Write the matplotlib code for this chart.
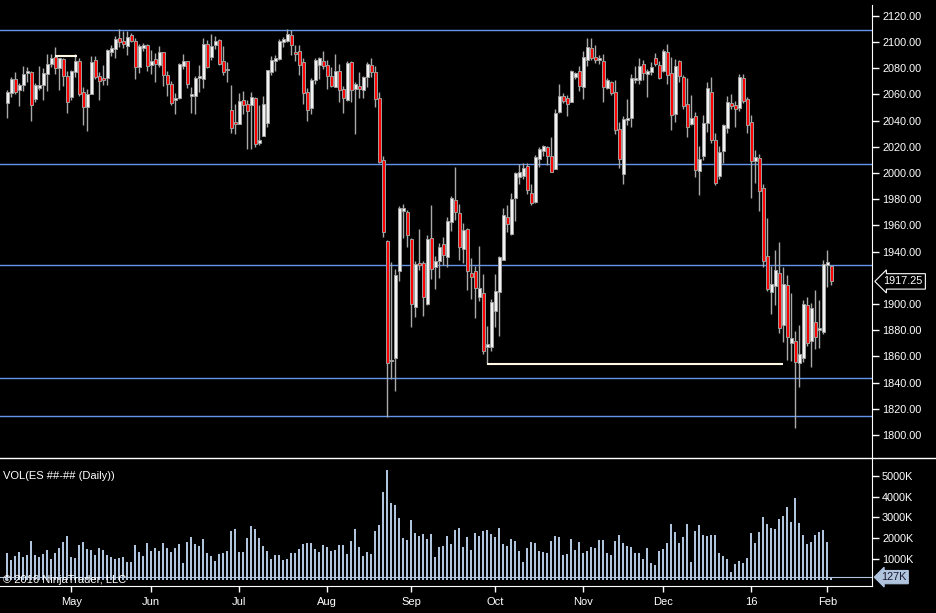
import matplotlib.pyplot as plt
import matplotlib.transforms as mtransforms
from matplotlib.lines import Line2D
import numpy as np

# ES daily bars, Apr 2015 - Feb 2016
opens = [2053.7, 2061.3, 2071.5, 2063.1, 2067.2, 2076.6, 2076.9, 2056.8, 2065.2, 2067.2,
         2075.3, 2083.2, 2088.8, 2079.9, 2086.8, 2073.8, 2058.3, 2077.4, 2085.5, 2061.6,
         2050.6, 2060.6, 2086.3, 2074.1, 2072.5, 2072.3, 2092.6, 2094.9, 2102.8, 2100.8,
         2096.7, 2105.4, 2100.8, 2081.2, 2095.7, 2097.7, 2082.7, 2087.0, 2082.7, 2092.4,
         2074.8, 2067.7, 2056.0, 2057.0, 2082.0, 2085.3, 2059.0, 2058.5, 2072.5, 2072.0,
         2098.5, 2088.8, 2097.7, 2101.5, 2085.5, 2078.4, 2048.1, 2038.4, 2037.7, 2055.7,
         2052.7, 2051.7, 2057.3, 2022.9, 2028.5, 2038.4, 2077.4, 2085.5, 2087.3, 2100.3,
         2101.0, 2105.4, 2091.9, 2092.9, 2084.5, 2062.1, 2049.4, 2071.3, 2082.7, 2085.3,
         2082.2, 2074.1, 2065.9, 2077.6, 2063.9, 2055.5, 2084.8, 2064.4, 2066.4, 2063.1,
         2073.0, 2082.5, 2077.1, 2057.3, 2009.9, 1948.1, 1856.2, 1859.0, 1924.9, 1971.2,
         1970.2, 1949.6, 1897.4, 1931.3, 1931.3, 1900.2, 1950.4, 1928.0, 1932.5, 1945.8,
         1936.1, 1962.8, 1979.4, 1969.5, 1942.2, 1957.2, 1923.9, 1925.2, 1905.6, 1908.4,
         1867.4, 1867.4, 1894.9, 1909.4, 1933.8, 1966.4, 1953.7, 1980.7, 1996.7, 1998.0,
         2005.6, 1984.7, 1978.1, 2010.7, 2017.1, 2019.6, 2013.0, 2003.1, 2046.6, 2058.8,
         2057.3, 2054.5, 2073.3, 2077.6, 2065.7, 2086.0, 2095.2, 2088.6, 2086.5, 2085.5,
         2065.2, 2069.2, 2061.8, 2033.3, 1999.5, 2040.7, 2042.2, 2071.3, 2071.0, 2083.0,
         2075.8, 2076.9, 2087.8, 2082.2, 2078.1, 2092.4, 2076.1, 2044.8, 2085.5, 2073.0,
         2052.7, 2037.7, 2043.5, 2001.8, 2013.0, 2037.9, 2061.6, 2025.2, 1998.0, 2017.0,
         2034.6, 2053.4, 2051.6, 2049.9, 2072.3, 2056.2, 2038.7, 2009.4, 2011.2, 1988.3,
         1936.9, 1909.4, 1914.0, 1923.4, 1883.9, 1914.2, 1870.4, 1872.0, 1855.2, 1859.0,
         1899.4, 1872.0, 1886.0, 1880.1, 1878.8, 1930.0, 1929.0]
highs = [2063.1, 2073.0, 2077.1, 2068.7, 2081.4, 2080.7, 2077.9, 2069.0, 2081.4, 2079.9,
         2090.6, 2090.6, 2095.9, 2088.1, 2087.6, 2078.1, 2078.9, 2090.9, 2087.6, 2065.4,
         2063.9, 2089.1, 2089.6, 2077.4, 2082.2, 2094.7, 2097.7, 2104.3, 2109.9, 2108.4,
         2108.4, 2106.6, 2102.8, 2098.2, 2099.3, 2098.2, 2093.9, 2091.6, 2097.0, 2092.4,
         2078.1, 2070.2, 2060.8, 2084.2, 2090.6, 2085.8, 2065.4, 2074.1, 2082.2, 2102.8,
         2101.3, 2105.9, 2104.3, 2102.1, 2096.7, 2084.5, 2067.2, 2052.4, 2061.1, 2062.6,
         2055.5, 2061.8, 2057.8, 2051.9, 2058.8, 2078.6, 2089.3, 2090.1, 2102.1, 2103.8,
         2109.7, 2109.4, 2097.5, 2097.7, 2088.1, 2064.6, 2072.3, 2087.8, 2088.3, 2093.1,
         2086.0, 2080.7, 2090.9, 2083.5, 2066.4, 2085.5, 2085.5, 2069.5, 2077.4, 2074.1,
         2085.0, 2087.8, 2081.4, 2062.1, 2013.0, 1948.8, 1932.3, 1926.7, 1974.8, 1976.3,
         1971.7, 1950.4, 1932.5, 1957.2, 1932.8, 1952.7, 1975.6, 1936.6, 1946.3, 1950.9,
         1966.7, 1982.4, 2004.8, 1976.3, 1961.8, 1957.7, 1935.3, 1929.2, 1944.2, 1922.9,
         1883.2, 1903.8, 1922.9, 1936.6, 1973.3, 1975.3, 1984.7, 2001.0, 2006.9, 2007.4,
         2007.6, 1991.3, 2013.5, 2020.1, 2021.4, 2020.6, 2027.5, 2048.6, 2067.7, 2060.8,
         2059.6, 2078.9, 2077.4, 2082.0, 2093.1, 2102.8, 2102.8, 2097.7, 2090.1, 2090.6,
         2072.3, 2070.2, 2070.8, 2039.2, 2043.8, 2056.5, 2075.3, 2082.0, 2088.1, 2086.3,
         2079.7, 2084.5, 2091.4, 2085.5, 2094.7, 2098.2, 2088.3, 2086.8, 2086.3, 2074.8,
         2072.3, 2059.6, 2046.3, 2020.6, 2044.0, 2069.2, 2073.0, 2030.3, 2020.6, 2037.4,
         2058.8, 2060.0, 2055.2, 2075.3, 2075.3, 2058.3, 2044.3, 2017.5, 2014.2, 1991.6,
         1965.9, 1929.2, 1941.2, 1947.3, 1928.0, 1922.1, 1908.1, 1879.1, 1883.9, 1903.0,
         1905.0, 1900.5, 1910.6, 1903.0, 1933.6, 1941.2, 1929.7]
lows = [2042.2, 2058.3, 2060.6, 2051.4, 2062.9, 2069.7, 2040.0, 2054.2, 2063.4, 2056.0,
        2062.9, 2081.2, 2075.8, 2063.6, 2066.7, 2046.1, 2056.0, 2073.3, 2058.5, 2036.6,
        2032.3, 2060.6, 2071.5, 2055.5, 2067.4, 2067.4, 2089.1, 2088.1, 2096.5, 2095.2,
        2090.1, 2099.8, 2072.0, 2076.4, 2093.4, 2078.1, 2075.8, 2069.7, 2080.7, 2066.7,
        2059.0, 2051.9, 2044.8, 2056.5, 2079.2, 2065.2, 2045.6, 2045.3, 2062.1, 2065.2,
        2080.4, 2086.5, 2094.9, 2082.5, 2075.1, 2069.7, 2030.8, 2029.8, 2037.7, 2045.3,
        2018.1, 2018.6, 2019.6, 2021.4, 2028.8, 2035.1, 2074.8, 2078.1, 2086.3, 2096.2,
        2100.3, 2090.1, 2085.8, 2074.8, 2052.7, 2040.0, 2044.8, 2068.0, 2071.5, 2079.7,
        2063.9, 2065.9, 2065.9, 2054.0, 2045.6, 2055.2, 2054.5, 2030.0, 2057.0, 2057.0,
        2065.4, 2073.6, 2050.1, 2007.9, 1950.9, 1814.0, 1843.0, 1833.8, 1917.8, 1950.1,
        1943.2, 1882.2, 1890.3, 1925.9, 1891.0, 1899.5, 1918.8, 1911.7, 1920.1, 1929.5,
        1928.0, 1955.5, 1964.4, 1933.8, 1931.0, 1910.4, 1903.6, 1889.6, 1902.5, 1861.5,
        1853.9, 1864.1, 1882.7, 1875.8, 1933.6, 1955.2, 1952.9, 1963.3, 1991.3, 1995.4,
        1984.2, 1975.6, 1977.3, 2004.8, 2013.2, 2006.1, 2000.5, 2003.1, 2045.6, 2053.2,
        2043.8, 2054.0, 2071.8, 2062.9, 2056.8, 2082.0, 2086.0, 2083.7, 2083.0, 2054.5,
        2063.9, 2059.6, 2029.5, 2004.1, 1991.3, 2036.6, 2035.1, 2068.5, 2068.2, 2071.0,
        2058.3, 2074.8, 2081.7, 2071.5, 2077.1, 2067.7, 2032.6, 2038.7, 2069.7, 2048.6,
        2027.7, 2036.6, 1996.7, 1983.4, 2009.9, 2031.5, 2023.1, 1990.8, 1995.7, 2007.9,
        2030.8, 2048.8, 2035.4, 2047.6, 2053.7, 2030.8, 1980.6, 1992.6, 1971.2, 1928.5,
        1910.1, 1892.3, 1899.2, 1878.1, 1871.2, 1857.2, 1856.7, 1805.0, 1836.8, 1855.9,
        1868.1, 1851.6, 1865.4, 1866.1, 1876.8, 1913.2, 1914.5]
closes = [2061.6, 2071.8, 2062.1, 2067.2, 2075.3, 2077.9, 2051.7, 2067.2, 2066.9, 2076.1,
          2083.0, 2087.8, 2080.4, 2088.1, 2074.3, 2054.5, 2077.6, 2085.5, 2060.1, 2050.1,
          2060.1, 2084.5, 2073.6, 2070.5, 2070.8, 2093.9, 2095.2, 2102.3, 2100.3, 2098.2,
          2103.8, 2100.8, 2080.7, 2097.0, 2097.7, 2082.0, 2085.5, 2083.0, 2092.4, 2074.6,
          2068.2, 2053.7, 2056.8, 2083.2, 2085.3, 2068.2, 2060.3, 2072.5, 2073.5, 2098.5,
          2080.9, 2096.7, 2100.8, 2083.0, 2077.4, 2079.4, 2034.1, 2037.6, 2055.0, 2051.9,
          2047.6, 2058.3, 2022.4, 2025.2, 2052.7, 2078.4, 2086.3, 2088.1, 2101.0, 2102.3,
          2106.1, 2097.7, 2091.1, 2082.2, 2060.8, 2047.8, 2071.0, 2086.0, 2087.6, 2082.0,
          2074.3, 2066.7, 2077.9, 2063.1, 2057.0, 2084.0, 2063.1, 2067.7, 2063.9, 2073.3,
          2083.0, 2077.4, 2056.2, 2008.7, 1955.2, 1854.7, 1856.7, 1922.1, 1973.3, 1973.3,
          1952.9, 1899.7, 1930.3, 1929.5, 1905.1, 1949.9, 1926.4, 1932.8, 1943.7, 1937.1,
          1963.6, 1981.2, 1970.0, 1943.2, 1956.7, 1924.9, 1920.8, 1911.9, 1912.4, 1864.3,
          1869.4, 1901.5, 1909.9, 1936.1, 1967.9, 1961.3, 1980.2, 2000.2, 2000.8, 2003.8,
          1986.8, 1976.8, 2012.3, 2018.3, 2020.4, 2013.2, 2001.0, 2045.8, 2059.0, 2055.0,
          2052.9, 2077.9, 2076.4, 2066.7, 2088.6, 2096.2, 2087.6, 2086.5, 2088.1, 2065.9,
          2071.0, 2061.1, 2032.6, 2011.0, 2041.2, 2042.0, 2072.8, 2072.8, 2081.7, 2076.6,
          2077.9, 2080.9, 2083.0, 2072.3, 2093.1, 2074.6, 2044.0, 2081.7, 2074.1, 2051.4,
          2034.9, 2041.7, 2002.0, 2010.4, 2037.9, 2064.6, 2025.2, 1992.6, 2016.0, 2036.6,
          2053.9, 2051.4, 2049.1, 2073.0, 2055.2, 2036.4, 2009.4, 2012.5, 1986.5, 1933.0,
          1911.7, 1915.2, 1925.9, 1881.9, 1915.2, 1875.0, 1873.7, 1855.4, 1861.5, 1899.7,
          1870.4, 1896.7, 1875.0, 1881.9, 1930.2, 1932.0, 1917.25]
volume_k = [1285, 948, 1140, 1333, 1092, 1188, 1863, 1188, 1092, 1237,
            1429, 996, 1285, 1526, 1815, 2104, 1092, 1044, 1670, 1815,
            1478, 1429, 1188, 1526, 1429, 1188, 1092, 996, 1044, 1092,
            851, 851, 1670, 1333, 1140, 1767, 1381, 1526, 1381, 1767,
            1526, 1333, 1526, 1718, 803, 1815, 2056, 1718, 1622, 1959,
            1285, 1140, 899, 1237, 1285, 1381, 2345, 2441, 1333, 1333,
            2008, 2586, 2441, 2008, 1622, 1381, 996, 1188, 1188, 948,
            996, 1285, 1285, 1478, 1718, 1767, 1767, 1478, 1333, 1670,
            1574, 1381, 1429, 1670, 1670, 1237, 1863, 2441, 1574, 1140,
            1333, 1237, 2345, 2634, 4224, 5284, 3694, 3597, 2971, 2008,
            1911, 2875, 2248, 2104, 2200, 1959, 2200, 1092, 1574, 1622,
            2104, 1718, 2393, 2489, 1574, 2056,
            1450, 2250, 2100, 2350, 2400, 2200, 2050, 2500, 1700, 1650,
            1950, 1850, 1400, 850, 1550, 1800, 1750, 1400, 1350, 1300,
            1850, 2100, 2050, 1200, 1250, 1950, 1450, 1800, 1300, 1400,
            1600, 1550, 1900, 1900, 1300, 1200, 1850, 2150, 1750, 1650,
            1600, 1300, 1300, 1000, 1550, 800, 700, 1400, 1500, 1750,
            2700, 2300, 1750, 2050, 2700, 850, 2350, 2650, 2150, 2100,
            2150, 2150, 1300, 1150, 1000, 350, 750, 900, 800, 1050,
            2250, 1750, 2300, 3000, 2700, 2500, 2450, 2950, 3050, 3500,
            2800, 3950, 2750, 2150, 1700, 1800, 2150, 2300, 2400, 1800,
            127]

month_ticks = [16, 36, 58, 80, 101, 122, 144, 164, 186, 205]
month_labels = ['May', 'Jun', 'Jul', 'Aug', 'Sep', 'Oct', 'Nov', 'Dec', '16', 'Feb']
# 1920 is hidden behind the last-price marker
price_ticks = [p for p in range(1800, 2121, 20) if p != 1920]
vol_ticks = [1000, 2000, 3000, 4000, 5000]

# horizontal levels drawn on the chart
levels = [2109.2, 2006.6, 1929.5, 1843.3, 1814.3]
ray_low = (120, 194, 1854.0)
ray_high = (12, 17.5, 2089.1)

plt.rcParams['font.family'] = ['Liberation Sans', 'DejaVu Sans']

W, H = 936, 613
fig = plt.figure(figsize=(W / 100, H / 100), dpi=100, facecolor='black')
axr = 872.3 / W
ax = fig.add_axes([0, (H - 458) / H, axr, (458 - 5) / H], facecolor='black')
axv = fig.add_axes([0, (H - 586) / H, axr, (586 - 458) / H], facecolor='black', sharex=ax)

x = np.arange(len(opens))
o = np.array(opens)
c = np.array(closes)
up = c >= o
body_lo = np.minimum(o, c)
body_h = np.maximum(np.abs(c - o), 1.2)

# wicks + bodies
ax.vlines(x, lows, highs, color='#a9a9a9', lw=1, zorder=2)
ax.bar(x, body_h, bottom=body_lo, width=0.78,
       color=['#f2f2f2' if u else '#ff0000' for u in up],
       edgecolor='#a0a0a0', linewidth=0.7, zorder=3)

for lv in levels:
    ax.axhline(lv, color='#6495ed', lw=1, zorder=1)
ax.hlines(ray_low[2], ray_low[0], ray_low[1], color='#fff8e6', lw=1.5, zorder=4)
ax.hlines(ray_high[2], ray_high[0], ray_high[1], color='#fff8e6', lw=1.5, zorder=4)

ax.set_xlim(-1.825, 216.25)
ax.set_ylim(1782.44, 2128.24)

for sp in ['top', 'left', 'bottom']:
    ax.spines[sp].set_visible(False)
ax.spines['right'].set_color('white')
ax.yaxis.tick_right()
ax.set_yticks(price_ticks)
ax.set_yticklabels([f"{v:.2f}" for v in price_ticks])
ax.tick_params(axis='y', colors='white', length=5, width=1, pad=2, labelsize=7.8)
ax.tick_params(axis='x', bottom=False, labelbottom=False)

# last price marker
tr = mtransforms.blended_transform_factory(ax.transAxes, ax.transData)
ax.text(1 + 11 / 872.3, closes[-1], f"{closes[-1]:.2f}", transform=tr, color='white',
        fontsize=7.8, va='center', ha='left', clip_on=False,
        bbox=dict(boxstyle='larrow,pad=0.25', fc='black', ec='white', lw=0.8))

# volume panel
axv.bar(x, volume_k, width=0.5, color='#b0c4de', zorder=2)
axv.axhline(volume_k[-1], color='#b0c4de', lw=0.8, zorder=1)
axv.set_ylim(-301, 5867)
for sp in ['top', 'left']:
    axv.spines[sp].set_visible(False)
axv.spines['right'].set_color('white')
axv.spines['bottom'].set_color('white')
axv.yaxis.tick_right()
axv.set_yticks(vol_ticks)
axv.set_yticklabels([f"{v}K" for v in vol_ticks])
axv.tick_params(axis='y', colors='white', length=5, width=1, pad=2, labelsize=7.8)
axv.set_xticks(month_ticks)
axv.set_xticklabels(month_labels)
axv.tick_params(axis='x', colors='white', length=4, width=1, pad=4, labelsize=8)

trv = mtransforms.blended_transform_factory(axv.transAxes, axv.transData)
axv.text(1 + 9 / 872.3, volume_k[-1], f"{volume_k[-1]}K", transform=trv, color='#1a1a2e',
         fontsize=7.8, va='center', ha='left', clip_on=False,
         bbox=dict(boxstyle='larrow,pad=0.15', fc='#b0c4de', ec='#b0c4de', lw=0.8))

axv.text(3 / 872.3, (586 - 476) / 128, "VOL(ES ##-## (Daily))", transform=axv.transAxes,
         color='white', fontsize=8, va='center', ha='left')
axv.text(3 / 872.3, (586 - 580) / 128, "\u00a9 2016 NinjaTrader, LLC", transform=axv.transAxes,
         color='white', fontsize=8, va='center', ha='left', zorder=5)

# panel separator across full width
fig.add_artist(Line2D([0, 1], [(H - 458) / H] * 2, color='white', lw=1, transform=fig.transFigure))

fig.savefig('out.png', dpi=100, facecolor='black')
